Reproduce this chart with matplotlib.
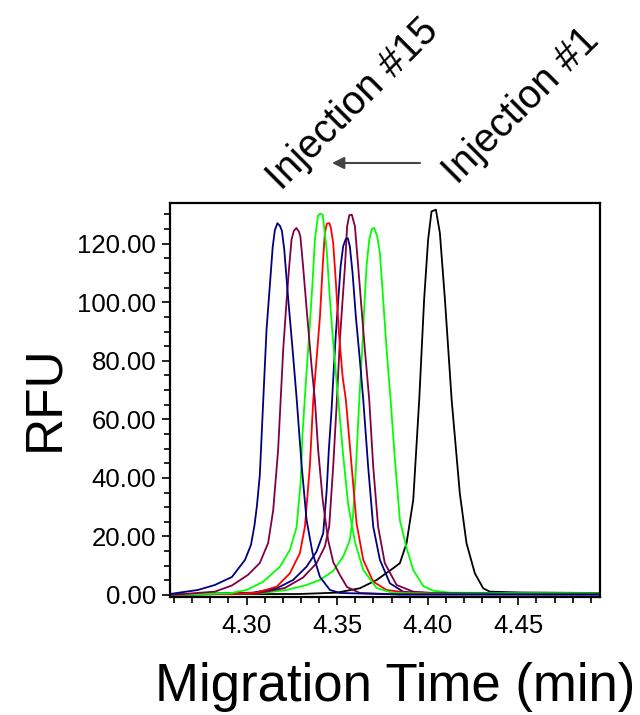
import matplotlib
matplotlib.use("Agg")
import matplotlib.pyplot as plt
from matplotlib.ticker import MultipleLocator, FormatStrFormatter

plt.rcParams['font.family'] = ['Liberation Sans', 'DejaVu Sans']

# electropherogram traces (time in min, signal in RFU)
black_t = [4.2577, 4.3294, 4.3497, 4.3625, 4.3718, 4.3809, 4.3846, 4.3883, 4.3920,
           4.3953, 4.3980, 4.4002, 4.4021, 4.4045, 4.4067, 4.4095, 4.4132, 4.4177,
           4.4214, 4.4260, 4.4306, 4.4343, 4.4509, 4.4950]
black_rfu = [0.24, 0.34, 0.79, 2.29, 5.13, 9.13, 10.84, 17.68, 32.48,
             66.67, 100.86, 121.37, 131.05, 131.63, 123.67, 100.86, 66.67, 34.77,
             17.68, 7.42, 2.29, 1.13, 0.85, 0.68]

navy1_t = [4.2577, 4.2731, 4.2825, 4.2919, 4.2991, 4.3024, 4.3043, 4.3057, 4.3073,
           4.3092, 4.3110, 4.3129, 4.3144, 4.3156, 4.3170, 4.3184, 4.3195, 4.3208,
           4.3230, 4.3254, 4.3276, 4.3304, 4.3331, 4.3364, 4.3405, 4.3460, 4.3515,
           4.3846, 4.4950]
navy1_rfu = [0.34, 1.71, 3.42, 6.15, 11.97, 17.10, 23.59, 30.43, 41.03,
             66.67, 90.61, 106.34, 118.82, 124.63, 127.02, 126.10, 124.40, 117.90,
             100.86, 83.76, 67.35, 44.10, 25.64, 14.36, 6.15, 1.71, 0.68,
             0.17, 0.17]

maroon1_t = [4.2577, 4.2825, 4.2919, 4.3007, 4.3073, 4.3119, 4.3147, 4.3174, 4.3188,
             4.3202, 4.3221, 4.3235, 4.3248, 4.3261, 4.3275, 4.3289, 4.3297, 4.3312,
             4.3335, 4.3359, 4.3377, 4.3395, 4.3420, 4.3450, 4.3478, 4.3515, 4.3554,
             4.3625, 4.3846, 4.4950]
maroon1_rfu = [0.0, 1.13, 3.25, 6.84, 10.94, 17.78, 29.06, 49.57, 66.67,
               83.76, 100.86, 112.14, 121.37, 124.45, 125.38, 124.10, 122.40, 112.14,
               95.05, 77.95, 66.67, 49.57, 32.48, 18.80, 11.28, 6.84, 2.74,
               0.68, 0.17, 0.17]

green1_t = [4.2577, 4.2908, 4.3000, 4.3092, 4.3184, 4.3239, 4.3276, 4.3298, 4.3309,
            4.3327, 4.3346, 4.3364, 4.3377, 4.3394, 4.3407, 4.3420, 4.3442, 4.3460,
            4.3478, 4.3506, 4.3533, 4.3561, 4.3598, 4.3644, 4.3718, 4.3809, 4.4122,
            4.4950]
green1_rfu = [0.0, 0.58, 1.71, 4.55, 9.68, 15.39, 23.25, 38.29, 55.39,
              72.49, 89.58, 106.68, 121.37, 129.58, 130.26, 129.92, 117.95, 100.86,
              86.16, 66.67, 47.86, 30.77, 18.12, 8.55, 2.39, 0.68, 0.34,
              0.34]

red_t = [4.2577, 4.2908, 4.3055, 4.3166, 4.3239, 4.3294, 4.3322, 4.3349, 4.3368,
         4.3383, 4.3405, 4.3420, 4.3432, 4.3443, 4.3457, 4.3465, 4.3478, 4.3493,
         4.3510, 4.3530, 4.3548, 4.3580, 4.3607, 4.3644, 4.3699, 4.3773, 4.3883,
         4.4122, 4.4950]
red_rfu = [0.17, 0.34, 0.79, 2.84, 7.42, 14.26, 23.35, 43.86, 66.67,
           78.06, 95.16, 112.26, 123.67, 126.85, 127.02, 125.49, 120.25, 106.57,
           89.47, 74.65, 66.67, 43.86, 24.49, 11.97, 4.55, 1.71, 0.79,
           0.34, 0.34]

navy2_t = [4.2577, 4.3035, 4.3166, 4.3257, 4.3331, 4.3386, 4.3423, 4.3442, 4.3454,
           4.3469, 4.3482, 4.3493, 4.3506, 4.3519, 4.3533, 4.3548, 4.3559, 4.3570,
           4.3585, 4.3603, 4.3625, 4.3644, 4.3671, 4.3699, 4.3736, 4.3791, 4.3864,
           4.3957, 4.4950]
navy2_rfu = [0.17, 0.79, 2.29, 5.13, 9.68, 14.81, 21.09, 35.73, 49.57,
             63.25, 78.06, 89.47, 100.86, 112.26, 119.10, 121.71, 121.88, 119.10,
             110.00, 95.16, 80.45, 66.67, 43.86, 23.35, 11.97, 4.00, 1.13,
             0.58, 0.34]

maroon2_t = [4.2577, 4.3062, 4.3211, 4.3312, 4.3386, 4.3432, 4.3456, 4.3478, 4.3497,
             4.3515, 4.3530, 4.3543, 4.3555, 4.3567, 4.3581, 4.3598, 4.3616, 4.3635,
             4.3653, 4.3677, 4.3699, 4.3726, 4.3763, 4.3828, 4.3920, 4.4122, 4.4950]
maroon2_rfu = [0.0, 0.58, 2.39, 5.98, 10.84, 16.55, 23.39, 43.90, 64.96,
               87.18, 100.86, 112.26, 125.94, 129.75, 129.92, 125.94, 112.26, 97.46,
               83.76, 66.67, 43.86, 23.35, 10.84, 3.42, 1.13, 0.34, 0.17]

green2_t = [4.2577, 4.3073, 4.3221, 4.3331, 4.3405, 4.3478, 4.3533, 4.3570, 4.3588,
            4.3603, 4.3622, 4.3638, 4.3649, 4.3662, 4.3677, 4.3692, 4.3705, 4.3721,
            4.3736, 4.3754, 4.3773, 4.3795, 4.3819, 4.3846, 4.3883, 4.3920, 4.3975,
            4.4030, 4.4122, 4.4950]
green2_rfu = [0.0, 0.58, 1.71, 3.42, 5.13, 8.21, 13.09, 18.80, 27.35,
              42.74, 66.67, 83.76, 97.43, 112.26, 121.37, 125.12, 125.36, 122.50,
              116.80, 100.86, 83.76, 66.67, 46.16, 25.64, 16.07, 8.55, 3.08,
              1.47, 0.79, 0.58]

fig = plt.figure(figsize=(6.4, 7.15), dpi=100)
ax = fig.add_axes([0.2656, 0.1650, 0.6719, 0.5510])

lw = 1.3
ax.plot(black_t, black_rfu, color="black", lw=lw)
ax.plot(green2_t, green2_rfu, color="#00ff00", lw=lw)
ax.plot(maroon2_t, maroon2_rfu, color="#800040", lw=lw)
ax.plot(navy2_t, navy2_rfu, color="#000080", lw=lw)
ax.plot(red_t, red_rfu, color="#ff0000", lw=lw)
ax.plot(green1_t, green1_rfu, color="#00ff00", lw=lw)
ax.plot(maroon1_t, maroon1_rfu, color="#800040", lw=lw)
ax.plot(navy1_t, navy1_rfu, color="#000080", lw=lw)

ax.set_xlim(4.2577, 4.4951)
ax.set_ylim(-0.7, 133.9)

ax.xaxis.set_major_locator(MultipleLocator(0.05))
ax.xaxis.set_minor_locator(MultipleLocator(0.01))
ax.yaxis.set_major_locator(MultipleLocator(20))
ax.yaxis.set_minor_locator(MultipleLocator(5))
ax.xaxis.set_major_formatter(FormatStrFormatter("%.2f"))
ax.yaxis.set_major_formatter(FormatStrFormatter("%.2f"))

ax.tick_params(which="both", direction="out", width=1.2, labelsize=18.5)
ax.tick_params(which="major", length=6)
ax.tick_params(which="minor", length=4)
ax.tick_params(axis="x", which="major", pad=6)
ax.tick_params(axis="y", which="major", pad=4)

for s in ax.spines.values():
    s.set_linewidth(1.6)

fig.text(45 / 640, 1 - 398 / 715, "RFU", rotation=90, ha="center", va="center",
         fontsize=37)
fig.text(395 / 640, 1 - 701 / 715, "Migration Time (min)", ha="center",
         va="baseline", fontsize=38)

fig.text(353 / 640, 1 - 104 / 715, "Injection #15", rotation=45, ha="center",
         va="center", fontsize=28.5)
fig.text(521 / 640, 1 - 106 / 715, "Injection #1", rotation=45, ha="center",
         va="center", fontsize=28.5)
ax.annotate("", xy=(332 / 640, 1 - 163 / 715), xytext=(420 / 640, 1 - 163 / 715),
            xycoords="figure fraction", textcoords="figure fraction",
            arrowprops=dict(arrowstyle="-|>", color="#444444", lw=1.5,
                            mutation_scale=18, shrinkA=0, shrinkB=0))

fig.savefig("out.png", dpi=100)
